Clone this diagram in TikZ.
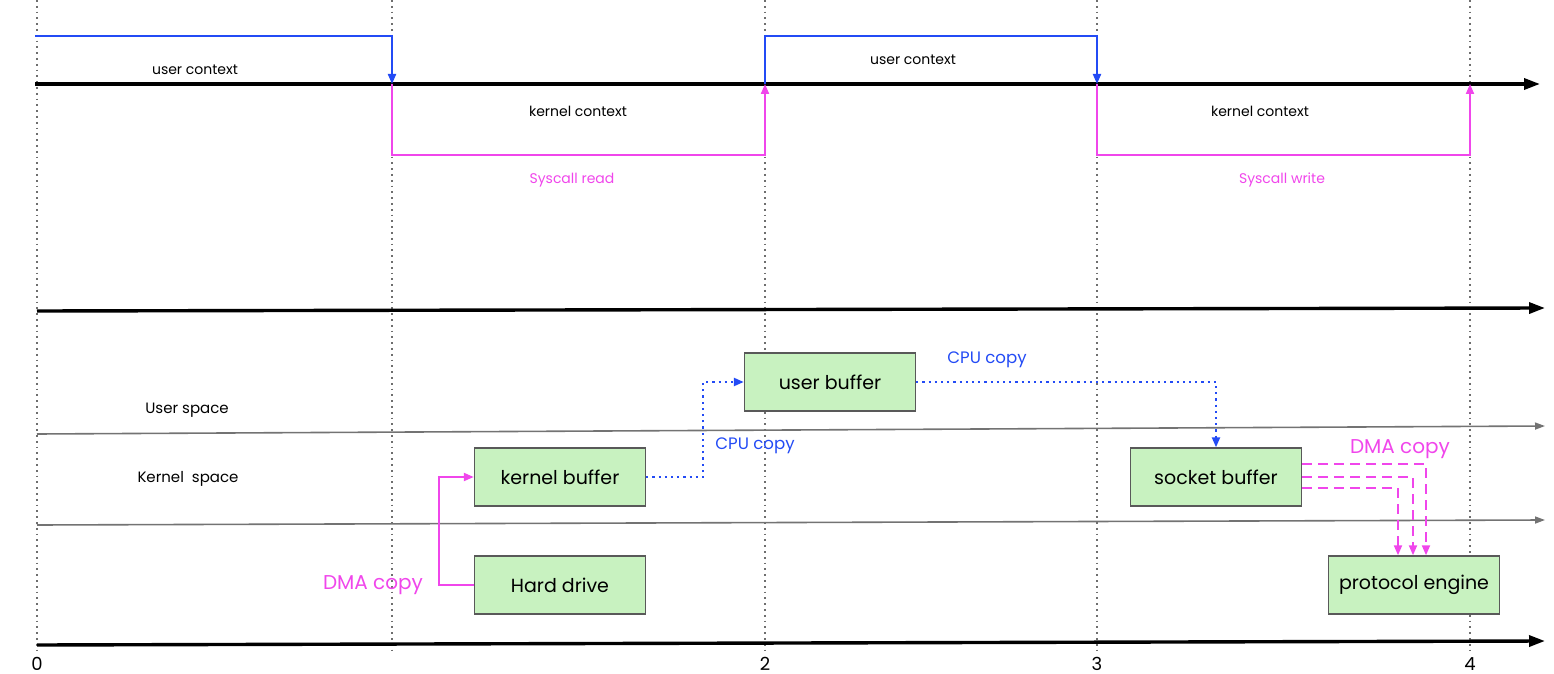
\documentclass[tikz,border=0pt]{standalone}
\usepackage{fontspec}
\setmainfont{Poppins}
\usetikzlibrary{arrows.meta,positioning,calc}
\definecolor{zcBlue}{RGB}{35,75,245}
\definecolor{zcMagenta}{RGB}{240,70,235}
\definecolor{zcGreen}{RGB}{200,242,192}
\definecolor{zcGrid}{RGB}{110,110,110}

\begin{document}
\begin{tikzpicture}[x=0.5pt,y=-0.5pt,
  box/.style={draw=black!65, line width=0.7pt, fill=zcGreen, minimum width=85.5pt,
              minimum height=29pt, inner sep=0pt, font=\fontsize{9.5}{11}\selectfont},
  axis/.style={line width=1.7pt, -{Triangle[length=8pt,width=5.5pt]}},
  lane/.style={draw=black!55, line width=0.8pt, -{Triangle[length=5pt,width=3.5pt]}},
  tick/.style={draw=zcGrid, dotted, line width=0.9pt},
  userline/.style={zcBlue, line width=1pt, -{Triangle[length=5pt,width=4pt]}},
  kernline/.style={zcMagenta, line width=1pt, -{Triangle[length=5pt,width=4pt]}},
  cpuline/.style={zcBlue, dotted, line width=1.1pt, -{Triangle[length=5pt,width=4pt]}},
  dmaline/.style={zcMagenta, line width=1pt, -{Triangle[length=5pt,width=4pt]}},
  dmadash/.style={zcMagenta, dashed, dash pattern=on 5pt off 3pt, line width=1pt,
                  -{Triangle[length=5pt,width=4pt]}},
  small/.style={font=\fontsize{7}{8}\selectfont},
  side/.style={font=\fontsize{7.5}{9}\selectfont},
  cputag/.style={font=\fontsize{8.3}{10}\selectfont, text=zcBlue},
  dmatag/.style={font=\fontsize{10}{12}\selectfont, text=zcMagenta},
  num/.style={font=\fontsize{9}{10}\selectfont}
]
  \useasboundingbox (0,0) rectangle (1554,674);

  % time marks
  \foreach \x in {37,392,765,1097,1470}
    \draw[tick] (\x,0) -- (\x,654);

  % axes
  \draw[axis] (35,84) -- (1540,84);
  \draw[axis] (37,311) -- (1545,308);
  \draw[lane] (37,434) -- (1545,426);
  \draw[lane] (37,525) -- (1545,520);
  \draw[axis] (37,645) -- (1545,641);

  % context switches
  \coordinate (a1) at (392,84);
  \coordinate (a2) at (765,84);
  \coordinate (a3) at (1097,84);
  \coordinate (a4) at (1470,84);
  \draw[userline] (35,36) -| (a1);
  \draw[kernline] (a1) -- ++(0,71) -| (a2);
  \draw[userline] (a2) -- ++(0,-48) -| (a3);
  \draw[kernline] (a3) -- ++(0,71) -| (a4);

  \node[small] (uc1) at (195,70) {user context};
  \node[small] (kc1) at (578,111) {kernel context};
  \node[small, text=zcMagenta] (sr) at (572,180) {Syscall read};
  \node[small] (uc2) at (913,60) {user context};
  \node[small] (kc2) at (1260,111) {kernel context};
  \node[small, text=zcMagenta] (sw) at (1282,180) {Syscall write};

  \node[side] (us) at (187,410) {User space};
  \node[side] (ks) at (188,479) {Kernel\ \ space};

  % buffers
  \node[box] (ubuf)  at (830,382)  {user buffer};
  \node[box] (kbuf)  at (560,477)  {kernel buffer};
  \node[box] (disk)  at (560,585)  {Hard drive};
  \node[box] (sbuf)  at (1216,477) {socket buffer};
  \node[box] (proto) at (1414,585) {protocol engine};

  % copies
  \draw[dmaline] (disk.west) -- ++(-35,0) |- (kbuf.west);
  \node[dmatag] (dma1) at (373,585) {DMA copy};
  \draw[cpuline] (kbuf.east) -- ++(57,0) |- (ubuf.west);
  \node[cputag] (cpu1) at (755,446) {CPU copy};
  \draw[cpuline] (ubuf.east) -| (sbuf.north);
  \node[cputag] (cpu2) at (987,360) {CPU copy};
  \foreach \dy/\dx in {-13/12, 0/-1, 11/-16}
    \draw[dmadash] ($(sbuf.east)+(0,\dy)$) -| ($(proto.north)+(\dx,0)$);
  \node[dmatag] (dma2) at (1400,449) {DMA copy};

  % step numbers
  \node[num] (n0) at (37,664) {0};
  \node[num] (n2) at (765,664) {2};
  \node[num] (n3) at (1097,664) {3};
  \node[num] (n4) at (1470,664) {4};
\end{tikzpicture}
\end{document}
